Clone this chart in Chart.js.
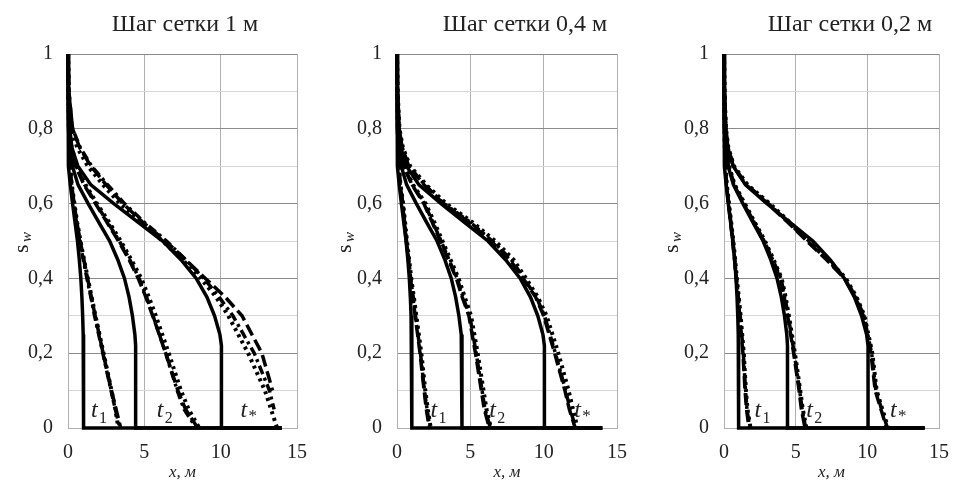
<!DOCTYPE html>
<html lang="ru">
<head>
<meta charset="UTF-8">
<title>Шаг сетки</title>
<script src="https://cdn.jsdelivr.net/npm/chart.js@4/dist/chart.umd.min.js"></script>
<style>
  body { margin: 0; background: #fff; }
  #wrap { position: relative; width: 962px; height: 483px; overflow: hidden; }
  canvas { position: absolute; top: 0; }
</style>
</head>
<body>
<div id="wrap">
  <canvas id="c1" width="320" height="483" style="left:0px"></canvas>
  <canvas id="c2" width="320" height="483" style="left:320px"></canvas>
  <canvas id="c3" width="322" height="483" style="left:640px"></canvas>
</div>
<script>
// уровни насыщенности (ось y)
const sExact = [1, 0.9, 0.8, 0.75, 0.7, 0.65, 0.6, 0.55, 0.5, 0.45, 0.4, 0.35, 0.3, 0.25, 0.22, 0, 0];
const sNum   = [1, 0.9, 0.8, 0.75, 0.7, 0.65, 0.6, 0.55, 0.5, 0.45, 0.4, 0.35, 0.3, 0.2, 0.1, 0.05, 0];

// точное решение (одинаково на всех графиках), x в метрах
const exactT1 = [0, 0.003, 0.012, 0.025, 0.065, 0.15, 0.3, 0.46, 0.62, 0.74, 0.84, 0.91, 0.96, 0.995, 1.02, 1.02, 14];
const exactT2 = [0, 0.013, 0.05, 0.11, 0.29, 0.66, 1.32, 2.02, 2.73, 3.26, 3.7, 4.0, 4.22, 4.38, 4.43, 4.43, 14];
const exactTs = [0, 0.03, 0.12, 0.25, 0.65, 1.5, 3.0, 4.6, 6.2, 7.4, 8.4, 9.1, 9.6, 9.95, 10.05, 10.05, 14];

// шаг сетки 1 м
const p1DashT1    = [0, 0.02, 0.05, 0.08, 0.13, 0.24, 0.4, 0.58, 0.8, 1.04, 1.28, 1.53, 1.78, 2.3, 2.85, 3.15, 3.45];
const p1DotT1     = [0, 0.02, 0.06, 0.09, 0.14, 0.25, 0.42, 0.6, 0.82, 1.05, 1.3, 1.55, 1.8, 2.33, 2.85, 3.1, 3.3];
const p1DashDotT1 = [0, 0.02, 0.05, 0.08, 0.12, 0.22, 0.37, 0.55, 0.76, 1.0, 1.24, 1.5, 1.74, 2.28, 2.82, 3.1, 3.4];
const p1DashT2    = [0, 0.03, 0.1, 0.2, 0.5, 1.05, 1.8, 2.55, 3.3, 4.0, 4.6, 5.1, 5.55, 6.4, 7.2, 7.7, 8.5];
const p1DotT2     = [0, 0.03, 0.12, 0.24, 0.58, 1.15, 1.9, 2.7, 3.45, 4.15, 4.8, 5.3, 5.75, 6.6, 7.4, 7.9, 8.6];
const p1DashDotT2 = [0, 0.03, 0.1, 0.22, 0.54, 1.1, 1.84, 2.6, 3.36, 4.05, 4.66, 5.15, 5.57, 6.4, 7.16, 7.6, 8.4];
const p1DashTs    = [0, 0.05, 0.3, 0.76, 1.5, 2.5, 3.6, 4.9, 6.4, 7.7, 9.0, 10.3, 11.4, 12.7, 13.4, null, null];
const p1DotTs     = [0, 0.05, 0.25, 0.6, 1.3, 2.3, 3.4, 4.8, 6.2, 7.5, 8.7, 9.7, 10.5, 11.8, 12.9, 13.3, 13.7];
const p1DashDotTs = [0, 0.05, 0.3, 0.8, 1.55, 2.6, 3.7, 5.0, 6.45, 7.7, 8.9, 9.9, 10.8, 12.2, 13.2, 13.5, null];

// шаг сетки 0,4 м
const p2DashT1    = [0, 0.01, 0.04, 0.07, 0.12, 0.22, 0.38, 0.5, 0.63, 0.78, 0.92, 1.08, 1.24, 1.57, 1.85, 2.0, 2.2];
const p2DotT1     = [0, 0.01, 0.05, 0.08, 0.13, 0.24, 0.42, 0.55, 0.68, 0.83, 0.97, 1.15, 1.32, 1.66, 1.93, 2.1, 2.3];
const p2DashDotT1 = [0, 0.01, 0.04, 0.07, 0.12, 0.22, 0.4, 0.52, 0.65, 0.8, 0.93, 1.1, 1.26, 1.6, 1.87, 2.05, 2.24];
const p2DashT2    = [0, 0.02, 0.08, 0.18, 0.45, 1.03, 1.83, 2.4, 2.96, 3.5, 4.05, 4.45, 4.9, 5.35, 5.75, 5.95, 6.3];
const p2DotT2     = [0, 0.02, 0.09, 0.2, 0.5, 1.1, 1.95, 2.55, 3.1, 3.65, 4.2, 4.62, 5.05, 5.5, 5.9, 6.1, 6.4];
const p2DashDotT2 = [0, 0.02, 0.08, 0.18, 0.45, 1.05, 1.87, 2.45, 3.0, 3.55, 4.1, 4.5, 4.96, 5.4, 5.8, 6.0, 6.37];
const p2DashTs    = [0, 0.04, 0.15, 0.35, 0.8, 1.85, 3.15, 4.9, 6.4, 7.7, 8.6, 9.45, 10.0, 10.75, 11.45, 11.75, 12.15];
const p2DotTs     = [0, 0.04, 0.17, 0.4, 0.9, 2.0, 3.35, 5.15, 6.7, 7.95, 8.8, 9.6, 10.2, 11.0, 11.7, 12.0, 12.3];
const p2DashDotTs = [0, 0.04, 0.15, 0.35, 0.8, 1.9, 3.2, 5.0, 6.5, 7.8, 8.65, 9.5, 10.06, 10.8, 11.5, 11.8, 12.2];

// шаг сетки 0,2 м
const p3DashT1    = [0, 0.01, 0.03, 0.05, 0.08, 0.17, 0.31, 0.46, 0.6, 0.73, 0.85, 0.98, 1.1, 1.32, 1.47, 1.57, 1.75];
const p3DotT1     = [0, 0.01, 0.04, 0.06, 0.1, 0.2, 0.35, 0.5, 0.65, 0.78, 0.9, 1.03, 1.16, 1.38, 1.53, 1.64, 1.85];
const p3DashDotT1 = [0, 0.01, 0.03, 0.05, 0.09, 0.18, 0.33, 0.48, 0.62, 0.75, 0.87, 1.0, 1.13, 1.35, 1.5, 1.6, 1.8];
const p3DashT2    = [0, 0.02, 0.06, 0.12, 0.31, 0.7, 1.37, 2.06, 2.76, 3.36, 3.93, 4.2, 4.44, 4.86, 5.24, 5.4, 5.65];
const p3DotT2     = [0, 0.02, 0.07, 0.14, 0.35, 0.75, 1.45, 2.15, 2.86, 3.46, 4.02, 4.3, 4.53, 4.95, 5.32, 5.5, 5.75];
const p3DashDotT2 = [0, 0.02, 0.06, 0.13, 0.33, 0.72, 1.4, 2.1, 2.8, 3.4, 3.97, 4.25, 4.48, 4.9, 5.28, 5.45, 5.7];
const p3DashTs    = [0, 0.03, 0.12, 0.27, 0.64, 1.55, 3.05, 4.45, 5.78, 7.15, 8.4, 9.15, 9.72, 10.25, 10.55, 10.95, 11.35];
const p3DotTs     = [0, 0.03, 0.14, 0.3, 0.7, 1.65, 3.2, 4.6, 5.95, 7.3, 8.5, 9.25, 9.8, 10.35, 10.65, 11.05, 11.45];
const p3DashDotTs = [0, 0.03, 0.13, 0.28, 0.66, 1.6, 3.1, 4.5, 5.83, 7.2, 8.45, 9.2, 9.76, 10.3, 10.6, 11.0, 11.4];

const titles = ['Шаг сетки 1 м', 'Шаг сетки 0,4 м', 'Шаг сетки 0,2 м'];
const timeLabels = ['1', '2', '*'];
const xTicks = [0, 5, 10, 15];

const SERIF = "'Liberation Serif', 'Times New Roman', serif";

function pts(xs, ys) {
    const out = [];
    for (let i = 0; i < xs.length; i++) {
        if (xs[i] !== null) out.push({ x: xs[i], y: ys[i] });
    }
    return out;
}

const styles = {
    solid:   { borderWidth: 3.5, borderDash: [] },
    dash:    { borderWidth: 3.5, borderDash: [12, 5] },
    dot:     { borderWidth: 4, borderDash: [3, 4] },
    dashdot: { borderWidth: 3.5, borderDash: [9, 4, 3, 4] }
};

function ds(xs, ys, style) {
    return Object.assign({
        data: pts(xs, ys), showLine: true, borderColor: '#000', backgroundColor: '#000',
        pointRadius: 0, fill: false, tension: 0, clip: false
    }, styles[style]);
}

// подписи и заголовок рисуем сами (нижний индекс)
const panelText = {
    id: 'panelText',
    afterDraw(chart, args, o) {
        const c = chart.ctx, xs = chart.scales.x, ys = chart.scales.y;
        c.save();
        c.fillStyle = '#222';
        c.textAlign = 'center';
        c.textBaseline = 'middle';
        c.font = '24px ' + SERIF;
        c.fillText(o.title, o.titleX, 25);

        // s_w
        c.translate(o.swX, 242);
        c.rotate(-Math.PI / 2);
        c.textAlign = 'left';
        c.font = '22px ' + SERIF;
        c.fillText('s', -11, 0);
        c.font = 'italic 15px ' + SERIF;
        c.fillText('w', 0, 5);
        c.setTransform(1, 0, 0, 1, 0, 0);

        o.marks.forEach((m, i) => {
            const px = xs.getPixelForValue(m), py = ys.getPixelForValue(0.045);
            c.textAlign = 'left';
            c.font = 'italic 24px ' + SERIF;
            c.fillText('t', px - 6, py);
            c.font = (timeLabels[i] === '*' ? '17px ' : '16px ') + SERIF;
            c.fillText(timeLabels[i], px + 2, py + (timeLabels[i] === '*' ? 5 : 8));
        });
        c.restore();
    }
};

function makeChart(id, k, numeric, opt) {
    const datasets = [
        ds(exactT1, sExact, 'solid'), ds(exactT2, sExact, 'solid'), ds(exactTs, sExact, 'solid')
    ];
    numeric.forEach(n => {
        datasets.push(ds(n[0], sNum, 'dashdot'));
        datasets.push(ds(n[1], sNum, 'dash'));
        datasets.push(ds(n[2], sNum, 'dot'));
    });
    return new Chart(document.getElementById(id), {
        type: 'scatter',
        data: { datasets: datasets },
        plugins: [panelText],
        options: {
            responsive: false,
            animation: false,
            events: [],
            layout: { padding: { top: 54, right: opt.right, left: 0, bottom: 0 } },
            plugins: {
                legend: { display: false },
                tooltip: { enabled: false },
                panelText: { title: titles[k], titleX: opt.titleX, swX: opt.swX, marks: opt.marks }
            },
            scales: {
                x: {
                    type: 'linear', min: 0, max: 15,
                    afterBuildTicks: s => { s.ticks = xTicks.map(v => ({ value: v })); },
                    afterFit: s => { s.height = 55; },
                    grid: { color: '#b0b0b0', lineWidth: 1, drawTicks: false },
                    border: { color: '#b0b0b0' },
                    ticks: { padding: 13, color: '#222', font: { family: SERIF, size: 20 } },
                    title: {
                        display: true, text: 'x, м', color: '#222',
                        font: { family: SERIF, size: 17, style: 'italic' },
                        padding: { top: 0, bottom: 0 }
                    }
                },
                y: {
                    type: 'linear', min: 0, max: 1,
                    afterFit: s => { s.width = opt.left; },
                    grid: {
                        drawTicks: false, lineWidth: 1,
                        color: c => (Math.round(c.tick.value * 10) % 2 === 0 ? '#8a8a8a' : '#d6d6d6')
                    },
                    border: { color: '#b0b0b0' },
                    ticks: {
                        stepSize: 0.1, padding: 15, color: '#222', font: { family: SERIF, size: 20 },
                        callback: v => {
                            const t = Math.round(v * 10);
                            if (t % 2) return '';
                            if (t === 0) return '0';
                            if (t === 10) return '1';
                            return (t / 10).toFixed(1).replace('.', ',');
                        }
                    }
                }
            }
        }
    });
}

makeChart('c1', 0, [[p1DashDotT1, p1DashT1, p1DotT1], [p1DashDotT2, p1DashT2, p1DotT2], [p1DashDotTs, p1DashTs, p1DotTs]],
    { left: 68, right: 21, titleX: 185, swX: 22, marks: [1.9, 6.2, 11.7] });
makeChart('c2', 1, [[p2DashDotT1, p2DashT1, p2DotT1], [p2DashDotT2, p2DashT2, p2DotT2], [p2DashDotTs, p2DashTs, p2DotTs]],
    { left: 77, right: 13, titleX: 205, swX: 25, marks: [2.7, 6.7, 12.5] });
makeChart('c3', 2, [[p3DashDotT1, p3DashT1, p3DotT1], [p3DashDotT2, p3DashT2, p3DotT2], [p3DashDotTs, p3DashTs, p3DotTs]],
    { left: 84, right: 9, titleX: 210, swX: 32, marks: [2.55, 6.15, 12.0] });
</script>
</body>
</html>
